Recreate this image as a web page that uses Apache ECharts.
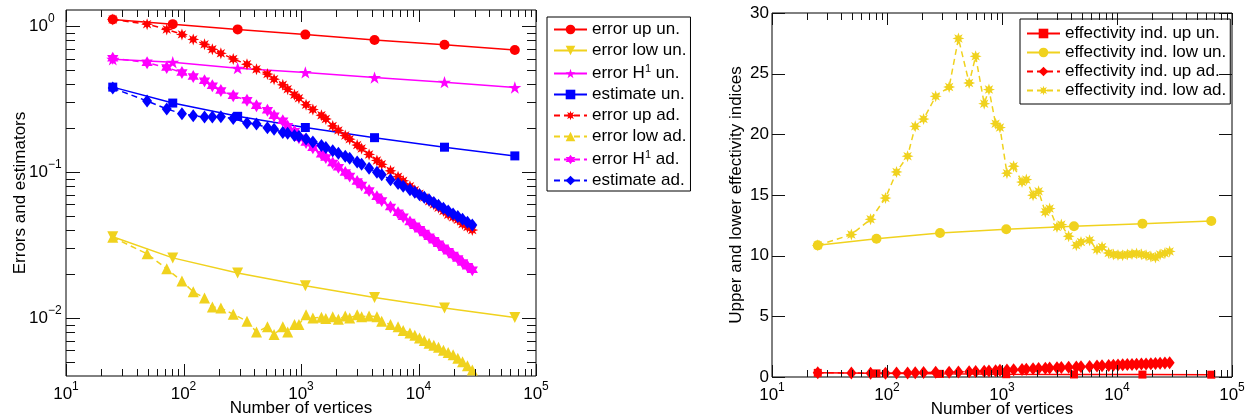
<!DOCTYPE html>
<html><head><meta charset="utf-8">
<script src="https://cdn.jsdelivr.net/npm/echarts@6/dist/echarts.min.js"></script>
<style>html,body{margin:0;padding:0;background:#fff}#c{width:1248px;height:420px}</style>
</head><body><div id="c"></div>
<script>
// ---------- data ----------
const xUniform = [25, 81, 289, 1089, 4225, 16641, 66049];
const xAdaptive = [25, 49, 72, 97, 121, 151, 176, 208, 265, 347, 418, 518, 590, 700, 770, 880, 960, 1104, 1262, 1493,
  1627, 1862, 2081, 2381, 2596, 3006, 3280, 3797, 4428, 4863, 5778, 6700, 7410, 8460, 9300, 10200, 11200, 12300, 13500, 14800,
  16300, 17900, 19700, 21600, 23700, 26100, 28700];

const errUpUn  = [1.111, 1.032, 0.950, 0.875, 0.803, 0.746, 0.686];
const errLowUn = [0.0360, 0.0258, 0.0203, 0.0166, 0.0138, 0.0117, 0.01006];
const errH1Un  = [0.593, 0.566, 0.515, 0.482, 0.444, 0.413, 0.380];
const estUn    = [0.382, 0.297, 0.241, 0.202, 0.172, 0.148, 0.129];

const errUpAd = [1.11, 1.032, 0.950, 0.878, 0.811, 0.750, 0.694, 0.651, 0.596, 0.548, 0.507, 0.469, 0.433, 0.396, 0.370, 0.339, 0.321, 0.289, 0.268, 0.245,
  0.231, 0.207, 0.193, 0.178, 0.168, 0.153, 0.145, 0.132, 0.120, 0.113, 0.102, 0.093, 0.087, 0.080, 0.075, 0.071, 0.067, 0.063, 0.060, 0.057,
  0.054, 0.051, 0.049, 0.047, 0.044, 0.042, 0.040];
const errLowAd = [0.0357, 0.0275, 0.0217, 0.0179, 0.0151, 0.0137, 0.0119, 0.0117, 0.0106, 0.0095, 0.0080, 0.0087, 0.0077, 0.0087, 0.0080, 0.0090, 0.0090, 0.0105, 0.0100, 0.0101,
  0.0099, 0.0102, 0.0098, 0.0103, 0.0100, 0.0105, 0.0102, 0.0103, 0.0102, 0.0095, 0.0090, 0.0087, 0.0082, 0.0079, 0.0076, 0.0073, 0.0070, 0.0067, 0.0065, 0.0063,
  0.0060, 0.0058, 0.0056, 0.0053, 0.0050, 0.0047, 0.0044];
const errH1Ad = [0.602, 0.562, 0.520, 0.481, 0.451, 0.422, 0.390, 0.362, 0.333, 0.310, 0.285, 0.265, 0.2435, 0.2251, 0.2059, 0.1904, 0.1716, 0.1594, 0.1469, 0.1322,
  0.1256, 0.1155, 0.1078, 0.0992, 0.0940, 0.0860, 0.0815, 0.0746, 0.0678, 0.0639, 0.0575, 0.0525, 0.0493, 0.0455, 0.0428, 0.0405, 0.0382, 0.0360, 0.0341, 0.0322,
  0.0303, 0.0286, 0.0270, 0.0255, 0.0240, 0.0226, 0.0214];
const estAd = [0.376, 0.307, 0.2705, 0.2513, 0.2435, 0.2385, 0.2385, 0.2397, 0.2330, 0.2172, 0.2131, 0.2008, 0.1964, 0.1865, 0.1844, 0.1779, 0.1759, 0.1684, 0.1609, 0.1518,
  0.1471, 0.1401, 0.1345, 0.1281, 0.1242, 0.1170, 0.1129, 0.1062, 0.0995, 0.0957, 0.0887, 0.0835, 0.0800, 0.0757, 0.0727, 0.0699, 0.0672, 0.0646, 0.0618, 0.0592,
  0.0565, 0.0540, 0.0516, 0.0496, 0.0475, 0.0453, 0.0433];

const effUpUn  = [0.34, 0.30, 0.26, 0.23, 0.21, 0.20, 0.19];
const effLowUn = [10.85, 11.4, 11.87, 12.17, 12.42, 12.64, 12.86];
const effUpAd  = [0.36, 0.33, 0.31, 0.31, 0.32, 0.33, 0.35, 0.37, 0.39, 0.40, 0.42, 0.43, 0.45, 0.47, 0.50, 0.52, 0.55, 0.58, 0.60, 0.62,
  0.64, 0.68, 0.70, 0.72, 0.74, 0.76, 0.78, 0.80, 0.83, 0.85, 0.87, 0.90, 0.92, 0.95, 0.97, 0.99, 1.01, 1.03, 1.04, 1.05,
  1.07, 1.08, 1.10, 1.11, 1.13, 1.15, 1.17];
const effLowAd = [10.85, 11.74, 13.0, 14.75, 16.9, 18.2, 20.66, 21.26, 23.13, 23.9, 27.9, 24.23, 26.43, 22.53, 23.69, 20.88, 20.56, 16.8, 17.37, 16.07,
  16.27, 14.98, 15.3, 13.6, 13.88, 12.36, 12.56, 11.6, 10.85, 11.13, 11.27, 10.5, 10.72, 10.22, 10.1, 10.05, 10.03, 10.1, 10.14, 10.17,
  10.11, 10.03, 9.93, 9.84, 10.1, 10.2, 10.35];

// tick marks (axis structure)
const xMajorTicks = [10, 100, 1000, 10000, 100000];
const xMinorTicks = [20,30,40,50,60,70,80,90, 200,300,400,500,600,700,800,900, 2000,3000,4000,5000,6000,7000,8000,9000,
  20000,30000,40000,50000,60000,70000,80000,90000];
const yLeftMajorTicks = [0.01, 0.1, 1];
const yLeftMinorTicks = [0.005,0.006,0.007,0.008,0.009, 0.02,0.03,0.04,0.05,0.06,0.07,0.08,0.09, 0.2,0.3,0.4,0.5,0.6,0.7,0.8,0.9];
const yRightTicks = [0, 5, 10, 15, 20, 25, 30];

// ---------- styling ----------
const FONT = 'Liberation Sans, Arial, Helvetica, sans-serif';
const RED = '#ff0000', YEL = '#f0d21e', MAG = '#ff00ff', BLU = '#0000ff';
const PENTA = 'path://M0,-1 L0.2245,-0.309 L0.951,-0.309 L0.363,0.118 L0.588,0.809 L0,0.382 L-0.588,0.809 L-0.363,0.118 L-0.951,-0.309 L-0.2245,-0.309 Z';
const HEXA = 'path://M0,-1 L0.2887,-0.5 L0.866,-0.5 L0.577,0 L0.866,0.5 L0.2887,0.5 L0,1 L-0.2887,0.5 L-0.866,0.5 L-0.577,0 L-0.866,-0.5 L-0.2887,-0.5 Z';
const AST = 'path://M1,0 L0.45,0.19 L0.707,0.707 L0.19,0.45 L0,1 L-0.19,0.45 L-0.707,0.707 L-0.45,0.19 L-1,0 L-0.45,-0.19 L-0.707,-0.707 L-0.19,-0.45 L0,-1 L0.19,-0.45 L0.707,-0.707 L0.45,-0.19 Z';

const GRIDS = [
  { left: 66, top: 10, width: 470, height: 366 },
  { left: 772, top: 13, width: 460, height: 364 }
];

const pairs = (xs, ys) => xs.map((x, i) => [x, ys[i]]);

function ln(name, xs, ys, color, symbol, size, dashed, gi, rot) {
  return {
    name, type: 'line', xAxisIndex: gi, yAxisIndex: gi,
    data: pairs(xs, ys),
    symbol, symbolSize: size, symbolKeepAspect: true, symbolRotate: rot || 0,
    showSymbol: true, showAllSymbol: true,
    lineStyle: { color, width: 1.5, type: dashed ? [6, 4] : 'solid' },
    itemStyle: { color, borderWidth: 0 },
    emphasis: { disabled: true }, silent: true, animation: false
  };
}

function supLabel(v) {
  const e = Math.round(Math.log10(v));
  return '{t|10}{s|' + (e < 0 ? '\u2212' + (-e) : e) + '}';
}
const supRich = {
  t: { fontSize: 17, lineHeight: 26, verticalAlign: 'middle', fontFamily: FONT, color: '#000' },
  s: { fontSize: 12, lineHeight: 12, verticalAlign: 'top', fontFamily: FONT, color: '#000' }
};

const legendRich = {
  t: { fontSize: 17, lineHeight: 21, fontFamily: FONT, color: '#000' },
  s: { fontSize: 11, lineHeight: 11, verticalAlign: 'top', fontFamily: FONT, color: '#000' }
};

const xAxisCommon = (gi) => ({
  type: 'log', logBase: 10, min: 10, max: 100000, gridIndex: gi,
  axisLine: { show: false }, axisTick: { show: false }, splitLine: { show: false }, minorTick: { show: false },
  axisLabel: { formatter: supLabel, rich: supRich, margin: 5, verticalAlign: 'top', showMinLabel: true, showMaxLabel: true },
  name: 'Number of vertices', nameLocation: 'middle', nameGap: 24, nameMoveOverlap: false,
  nameTextStyle: { fontSize: 17, fontFamily: FONT, color: '#000' }
});

const option = {
  animation: false,
  backgroundColor: '#fff',
  textStyle: { fontFamily: FONT },
  grid: GRIDS.map(g => Object.assign({ show: true, borderColor: '#000', borderWidth: 1, backgroundColor: 'transparent',
    containLabel: false, outerBoundsMode: 'none' }, g)),
  xAxis: [xAxisCommon(0), xAxisCommon(1)],
  yAxis: [
    {
      type: 'log', logBase: 10, min: 0.004, max: 1.29, gridIndex: 0,
      axisLine: { show: false }, axisTick: { show: false }, splitLine: { show: false }, minorTick: { show: false },
      axisLabel: {
        formatter: (v) => {
          const e = Math.log10(v);
          return Math.abs(e - Math.round(e)) < 1e-6 ? supLabel(v) : '';
        },
        rich: supRich, margin: 37, align: 'left', verticalAlign: 'middle', showMinLabel: false, showMaxLabel: false
      },
      name: 'Errors and estimators', nameLocation: 'middle', nameGap: 37, nameMoveOverlap: false,
      nameTextStyle: { fontSize: 17, fontFamily: FONT, color: '#000' }
    },
    {
      type: 'value', min: 0, max: 30, interval: 5, gridIndex: 1,
      axisLine: { show: false }, axisTick: { show: false }, splitLine: { show: false },
      axisLabel: { fontSize: 17, color: '#000', fontFamily: FONT, margin: 3 },
      name: 'Upper and lower effectivity indices', nameLocation: 'middle', nameGap: 27, nameMoveOverlap: false,
      nameTextStyle: { fontSize: 17, fontFamily: FONT, color: '#000' }
    }
  ],
  legend: [
    {
      left: 547, top: 17, orient: 'vertical', itemWidth: 33, itemHeight: 12, itemGap: 4,
      padding: [4, 4, 2, 6], borderColor: '#000', borderWidth: 1, backgroundColor: '#fff',
      selectedMode: false,
      data: ['error up un.', 'error low un.', 'error H1 un.', 'estimate un.', 'error up ad.', 'error low ad.', 'error H1 ad.', 'estimate ad.'],
      formatter: (n) => n.indexOf('H1') >= 0 ? '{t|error H}{s|1}{t|' + n.slice(8) + '}' : '{t|' + n + '}',
      textStyle: { rich: legendRich, fontSize: 17, fontFamily: FONT, color: '#000' }
    },
    {
      left: 1020, top: 19, orient: 'vertical', itemWidth: 33, itemHeight: 12, itemGap: 2,
      padding: [6, 4, 5, 6], borderColor: '#000', borderWidth: 1, backgroundColor: '#fff',
      selectedMode: false,
      data: ['effectivity ind. up un.', 'effectivity ind. low un.', 'effectivity ind. up ad.', 'effectivity ind. low ad.'],
      formatter: (n) => '{t|' + n + '}',
      textStyle: { rich: { t: { fontSize: 17, lineHeight: 19, fontFamily: FONT, color: '#000' } }, fontSize: 17, fontFamily: FONT, color: '#000' }
    }
  ],
  series: [
    ln('error up un.', xUniform, errUpUn, RED, 'circle', 10, false, 0),
    ln('error low un.', xUniform, errLowUn, YEL, 'triangle', 11, false, 0, 180),
    ln('error H1 un.', xUniform, errH1Un, MAG, PENTA, 13, false, 0),
    ln('estimate un.', xUniform, estUn, BLU, 'rect', 9, false, 0),
    ln('error up ad.', xAdaptive, errUpAd, RED, AST, 12, true, 0),
    ln('error low ad.', xAdaptive, errLowAd, YEL, 'triangle', 11, true, 0),
    ln('error H1 ad.', xAdaptive, errH1Ad, MAG, HEXA, 13, true, 0),
    ln('estimate ad.', xAdaptive, estAd, BLU, 'diamond', [10, 13], true, 0),
    ln('effectivity ind. up un.', xUniform, effUpUn, RED, 'rect', 8, false, 1),
    ln('effectivity ind. low un.', xUniform, effLowUn, YEL, 'circle', 10, false, 1),
    ln('effectivity ind. up ad.', xAdaptive, effUpAd, RED, 'diamond', [10, 13], true, 1),
    ln('effectivity ind. low ad.', xAdaptive, effLowAd, YEL, AST, 12, true, 1)
  ]
};

const chart = echarts.init(document.getElementById('c'), null, { renderer: 'canvas' });
chart.setOption(option);

// inward tick marks on all four sides, placed through the axes' own scales
function tickElements(gi, xt, yt) {
  const g = GRIDS[gi];
  const els = [];
  const st = () => ({ stroke: '#111', lineWidth: 1 });
  xt.forEach(([v, len]) => {
    const px = Math.round(chart.convertToPixel({ xAxisIndex: gi }, v)) + 0.5;
    els.push({ type: 'line', silent: true, z: 50, shape: { x1: px, y1: g.top + g.height, x2: px, y2: g.top + g.height - len }, style: st() });
    els.push({ type: 'line', silent: true, z: 50, shape: { x1: px, y1: g.top, x2: px, y2: g.top + len }, style: st() });
  });
  yt.forEach(([v, len]) => {
    const py = Math.round(chart.convertToPixel({ yAxisIndex: gi }, v)) + 0.5;
    els.push({ type: 'line', silent: true, z: 50, shape: { x1: g.left, y1: py, x2: g.left + len, y2: py }, style: st() });
    els.push({ type: 'line', silent: true, z: 50, shape: { x1: g.left + g.width, y1: py, x2: g.left + g.width - len, y2: py }, style: st() });
  });
  return els;
}
const xTicksAll = xMajorTicks.map(v => [v, 12]).concat(xMinorTicks.map(v => [v, 7]));
const yLeftTicksAll = yLeftMajorTicks.map(v => [v, 14]).concat(yLeftMinorTicks.map(v => [v, 9]));
const yRightTicksAll = yRightTicks.map(v => [v, 13]);

chart.setOption({
  graphic: { elements: tickElements(0, xTicksAll, yLeftTicksAll).concat(tickElements(1, xTicksAll, yRightTicksAll)) }
});
</script>
</body></html>
